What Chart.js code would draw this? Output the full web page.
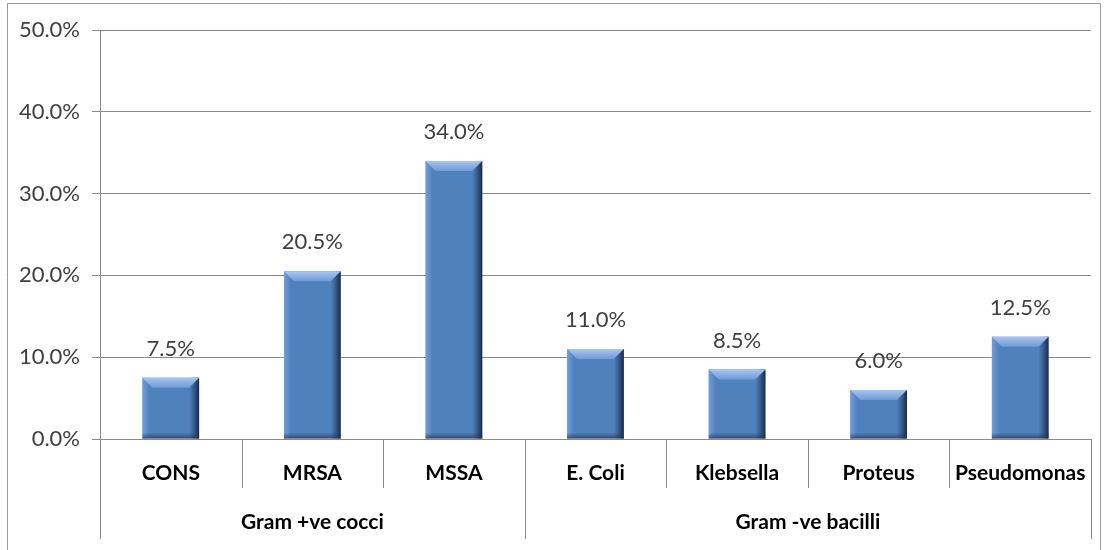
<!DOCTYPE html>
<html>
<head>
<meta charset="utf-8">
<script src="https://cdn.jsdelivr.net/npm/chart.js@4/dist/chart.umd.min.js"></script>
<style>
  html, body { margin: 0; padding: 0; background: #ffffff; }
  #wrap { width: 1104px; height: 550px; position: relative; }
</style>
</head>
<body>
<div id="wrap"><canvas id="c" width="1104" height="550"></canvas></div>
<script>
const categories = ['CONS', 'MRSA', 'MSSA', 'E. Coli', 'Klebsella', 'Proteus', 'Pseudomonas'];
const values = [7.5, 20.5, 34.0, 11.0, 8.5, 6.0, 12.5];
const groupNames = ['Gram +ve cocci', 'Gram -ve bacilli'];
const groupSizes = [3, 4];
const yTicks = [0, 10, 20, 30, 40, 50];

const FONT = 'Lato, "Liberation Sans", sans-serif';
const GRID = '#8a8a8a';

const extras = {
  id: 'extras',
  afterDatasetsDraw(chart) {
    const ctx = chart.ctx;
    const meta = chart.getDatasetMeta(0);
    ctx.save();
    meta.data.forEach((bar, i) => {
      const p = bar.getProps(['x', 'y', 'base', 'width'], true);
      const l = p.x - p.width / 2, r = p.x + p.width / 2, t = p.y, b = p.base;
      const h = b - t;
      const bev = Math.min(10, h / 3);
      let g = ctx.createLinearGradient(l, 0, l + 7, 0);
      g.addColorStop(0, 'rgba(120,160,220,0.9)');
      g.addColorStop(1, 'rgba(120,160,220,0)');
      ctx.fillStyle = g;
      ctx.fillRect(l, t, 7, h);
      g = ctx.createLinearGradient(r - 10, 0, r, 0);
      g.addColorStop(0, 'rgba(30,55,95,0)');
      g.addColorStop(1, 'rgba(20,38,70,0.95)');
      ctx.fillStyle = g;
      ctx.fillRect(r - 10, t, 10, h);
      g = ctx.createLinearGradient(0, b - 6, 0, b);
      g.addColorStop(0, 'rgba(30,55,95,0)');
      g.addColorStop(1, 'rgba(30,55,95,0.7)');
      ctx.fillStyle = g;
      ctx.fillRect(l, b - 6, p.width, 6);
      ctx.beginPath();
      ctx.moveTo(l, t);
      ctx.lineTo(r, t);
      ctx.lineTo(r - bev, t + bev);
      ctx.lineTo(l + bev, t + bev);
      ctx.closePath();
      g = ctx.createLinearGradient(0, t, 0, t + bev);
      g.addColorStop(0, '#a9c6ee');
      g.addColorStop(1, '#6f9ad6');
      ctx.fillStyle = g;
      ctx.fill();
      ctx.fillStyle = '#404040';
      ctx.font = '22px ' + FONT;
      ctx.textAlign = 'center';
      ctx.textBaseline = 'bottom';
      ctx.fillText(values[i].toFixed(1) + '%', p.x, t - 18);
    });
    ctx.restore();
  },
  afterDraw(chart) {
    const ctx = chart.ctx;
    const xs = chart.scales.x;
    const area = chart.chartArea;
    const half = (xs.getPixelForValue(1) - xs.getPixelForValue(0)) / 2;
    ctx.save();
    ctx.strokeStyle = GRID;
    ctx.lineWidth = 1;
    const groupEdges = new Set([0]);
    let acc = 0;
    groupSizes.forEach(s => { acc += s; groupEdges.add(acc); });
    for (let k = 0; k <= categories.length; k++) {
      const x = Math.round(xs.getPixelForValue(k) - half) + 0.5;
      const bottom = groupEdges.has(k) ? 539 : 488;
      ctx.beginPath();
      ctx.moveTo(x, area.bottom);
      ctx.lineTo(x, bottom);
      ctx.stroke();
    }
    ctx.fillStyle = '#000000';
    ctx.font = 'bold 21px ' + FONT;
    ctx.textAlign = 'center';
    ctx.textBaseline = 'middle';
    let start = 0;
    groupNames.forEach((name, gi) => {
      const end = start + groupSizes[gi] - 1;
      const cx = (xs.getPixelForValue(start) + xs.getPixelForValue(end)) / 2;
      ctx.fillText(name, cx, 522);
      start += groupSizes[gi];
    });
    ctx.strokeStyle = '#9a9a9a';
    ctx.beginPath();
    ctx.moveTo(7.5, 560);
    ctx.lineTo(7.5, 3.5);
    ctx.lineTo(1100.5, 3.5);
    ctx.lineTo(1100.5, 560);
    ctx.stroke();
    ctx.restore();
  }
};

new Chart(document.getElementById('c'), {
  type: 'bar',
  data: {
    labels: categories,
    datasets: [{
      data: values,
      backgroundColor: '#4f81bd',
      borderWidth: 0,
      barPercentage: 0.4,
      categoryPercentage: 1.0
    }]
  },
  options: {
    responsive: false,
    animation: false,
    devicePixelRatio: 1,
    layout: { padding: { top: 30, right: 13, left: 0, bottom: 0 } },
    plugins: { legend: { display: false }, tooltip: { enabled: false } },
    scales: {
      y: {
        min: 0, max: 50,
        afterFit(scale) { scale.width = 100; },
        afterBuildTicks(scale) { scale.ticks = yTicks.map(v => ({ value: v })); },
        ticks: {
          stepSize: 10,
          padding: 12,
          color: '#404040',
          font: { family: FONT, size: 22 },
          callback: v => v.toFixed(1) + '%'
        },
        grid: { color: GRID, tickLength: 8, tickColor: GRID },
        border: { display: true, color: GRID }
      },
      x: {
        afterFit(scale) {
          scale.height = 111;
          scale.paddingLeft = 0;
          scale.paddingRight = 0;
        },
        ticks: {
          padding: 22,
          color: '#000000',
          font: { family: FONT, size: 21, weight: 'bold' },
          maxRotation: 0, autoSkip: false
        },
        grid: { drawOnChartArea: false, drawTicks: false, color: GRID },
        border: { display: true, color: GRID }
      }
    }
  },
  plugins: [extras]
});
</script>
</body>
</html>
